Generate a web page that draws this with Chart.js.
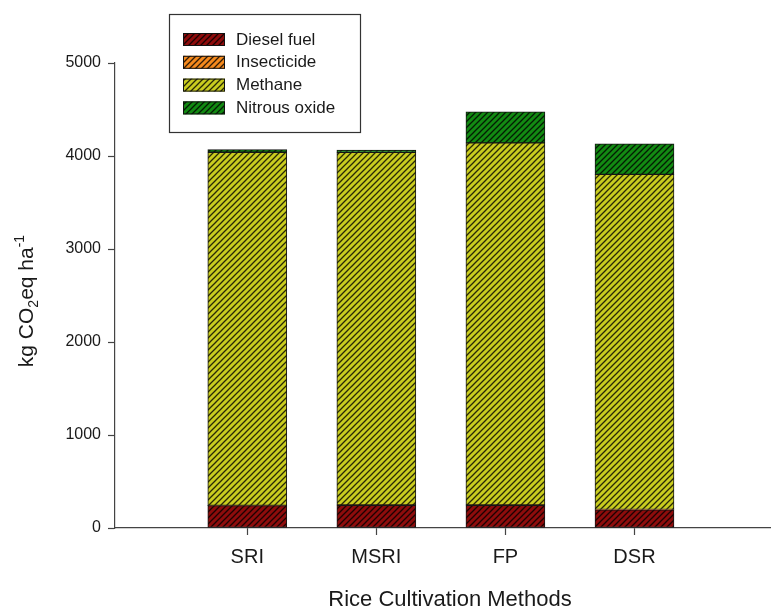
<!DOCTYPE html>
<html>
<head>
<meta charset="utf-8">
<script src="https://cdn.jsdelivr.net/npm/chart.js@4"></script>
<style>
  body { margin: 0; background: #fff; }
  #wrap { width: 774px; height: 610px; }
</style>
</head>
<body>
<div id="wrap"><canvas id="ghgChart"></canvas></div>
<script>
// Data (kg CO2eq / ha)
const categories = ['SRI', 'MSRI', 'FP', 'DSR'];
const dieselFuel = [240, 245, 245, 195];
const insecticide = [4, 4, 4, 4];
const methane = [3796, 3790, 3892, 3603];
const nitrousOxide = [28, 25, 333, 328];
const yTicks = [0, 1000, 2000, 3000, 4000, 5000];

const FONT = "'Liberation Sans', Arial, sans-serif";

// diagonal hatch fill
function hatch(color) {
  const c = document.createElement('canvas');
  c.width = c.height = 6;
  const g = c.getContext('2d');
  g.fillStyle = color;
  g.fillRect(0, 0, 6, 6);
  g.strokeStyle = 'rgba(0,0,0,0.8)';
  g.lineWidth = 1.3;
  g.beginPath();
  g.moveTo(0, 6); g.lineTo(6, 0);
  g.moveTo(-3, 3); g.lineTo(3, -3);
  g.moveTo(3, 9); g.lineTo(9, 3);
  g.stroke();
  return g.createPattern(c, 'repeat');
}

const toPoints = arr => arr.map((v, i) => ({ x: i + 1, y: v }));

const series = [
  { label: 'Diesel fuel', data: dieselFuel, color: '#8e0c0c' },
  { label: 'Insecticide', data: insecticide, color: '#f5891c' },
  { label: 'Methane', data: methane, color: '#c9cc1f' },
  { label: 'Nitrous oxide', data: nitrousOxide, color: '#128a12' }
];

// Legend box + axis titles
const annotations = {
  id: 'annotations',
  afterDraw(chart) {
    const ctx = chart.ctx;
    ctx.save();
    // legend
    ctx.strokeStyle = '#333';
    ctx.lineWidth = 1.2;
    ctx.strokeRect(169.5, 14.5, 191, 118);
    chart.data.datasets.forEach((ds, i) => {
      const y = 33 + i * 22.8;
      ctx.fillStyle = ds.backgroundColor;
      ctx.fillRect(183, y, 42, 13);
      ctx.strokeStyle = '#111';
      ctx.lineWidth = 1;
      ctx.strokeRect(183.5, y + 0.5, 41, 12);
      ctx.fillStyle = '#1a1a1a';
      ctx.font = '17px ' + FONT;
      ctx.textBaseline = 'middle';
      ctx.textAlign = 'left';
      ctx.fillText(ds.label, 236, y + 7);
    });

    // x title
    ctx.font = '22px ' + FONT;
    ctx.textAlign = 'center';
    ctx.textBaseline = 'middle';
    ctx.fillText('Rice Cultivation Methods', 450, 600);

    // y title with sub/superscript
    ctx.translate(26, 301);
    ctx.rotate(-Math.PI / 2);
    const parts = [
      { t: 'kg CO', size: 21, dy: 0 },
      { t: '2', size: 14, dy: 5 },
      { t: 'eq ha', size: 21, dy: 0 },
      { t: '-1', size: 14, dy: -9 }
    ];
    let total = 0;
    parts.forEach(p => { ctx.font = p.size + 'px ' + FONT; p.w = ctx.measureText(p.t).width; total += p.w; });
    let x = -total / 2;
    ctx.textAlign = 'left';
    ctx.textBaseline = 'alphabetic';
    parts.forEach(p => {
      ctx.font = p.size + 'px ' + FONT;
      ctx.fillText(p.t, x, 7 + p.dy);
      x += p.w;
    });
    ctx.restore();
  }
};

const ctx = document.getElementById('ghgChart').getContext('2d');
new Chart(ctx, {
  type: 'bar',
  data: {
    datasets: series.map(s => ({
      label: s.label,
      data: toPoints(s.data),
      backgroundColor: hatch(s.color),
      borderColor: '#151515',
      borderWidth: 1,
      borderSkipped: false,
      barThickness: 79
    }))
  },
  options: {
    responsive: true,
    maintainAspectRatio: false,
    animation: false,
    layout: { padding: { top: 63, right: 4, left: 0, bottom: 0 } },
    plugins: { legend: { display: false }, tooltip: { enabled: false } },
    scales: {
      x: {
        type: 'linear',
        stacked: true,
        offset: false,
        min: -0.025,
        max: 5.05,
        afterBuildTicks: s => { s.ticks = categories.map((c, i) => ({ value: i + 1 })); },
        afterFit: s => { s.height = 82; },
        grid: { offset: false, drawOnChartArea: false, tickLength: 7, color: '#444', tickWidth: 1.2 },
        border: { color: '#444', width: 1.2 },
        ticks: {
          autoSkip: false,
          maxRotation: 0,
          padding: 10,
          color: '#1a1a1a',
          font: { family: FONT, size: 20 },
          callback: v => categories[v - 1] || ''
        }
      },
      y: {
        stacked: true,
        min: 0,
        max: 5000,
        afterBuildTicks: s => { s.ticks = yTicks.map(v => ({ value: v })); },
        afterFit: s => { s.width = 115; },
        grid: { drawOnChartArea: false, tickLength: 7, color: '#444', tickWidth: 1.2 },
        border: { color: '#444', width: 1.2 },
        ticks: {
          padding: 7,
          color: '#1a1a1a',
          font: { family: FONT, size: 16 },
          callback: v => String(v)
        }
      }
    }
  },
  plugins: [annotations]
});
</script>
</body>
</html>
